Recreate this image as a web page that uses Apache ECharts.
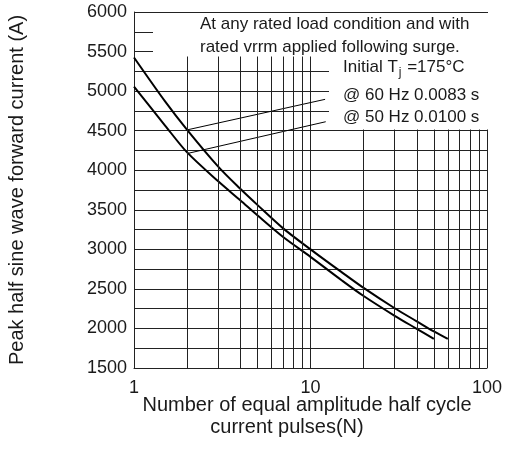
<!DOCTYPE html>
<html><head><meta charset="utf-8">
<script src="https://cdn.jsdelivr.net/npm/echarts@6/dist/echarts.min.js"></script>
<style>html,body{margin:0;padding:0;background:#fff}#c{width:505px;height:459px}</style>
</head><body><div id="c"></div>
<script>
// ---- data ----
var pulses60 = [1, 1.5, 2, 3, 4, 5, 7, 10, 15, 20, 30, 40, 50, 60];
var current60 = [5425, 4870, 4510, 4045, 3765, 3562, 3265, 3000, 2712, 2512, 2255, 2090, 1962, 1867];
var pulses50 = [1, 1.5, 2, 3, 4, 5, 7, 10, 15, 20, 30, 40, 50];
var current50 = [5056, 4565, 4225, 3860, 3620, 3430, 3155, 2905, 2610, 2410, 2160, 1995, 1867];
var leader60 = [[2, 4510], [12.1, 4896]];
var leader50 = [[2.03, 4214], [12.2, 4613]];
var xMinorGrid = [2, 3, 4, 5, 6, 7, 8, 9, 20, 30, 40, 50, 60, 70, 80, 90];
var xTicks = [1, 10, 100];
var yTicks = [1500, 2000, 2500, 3000, 3500, 4000, 4500, 5000, 5500, 6000];
var yTitle = 'Peak half sine wave forward current (A)';
var xTitle1 = 'Number of equal amplitude half cycle';
var xTitle2 = 'current pulses(N)';
var note1 = 'At any rated load condition and with';
var note2 = 'rated vrrm applied following surge.';
var label60 = '@ 60 Hz 0.0083 s';
var label50 = '@ 50 Hz 0.0100 s';

var FONT = "'Liberation Sans', Arial, Helvetica, sans-serif";
var INK = '#1a1a1a';
var GRID = '#222';

function pairs(xs, ys) { return xs.map(function (x, i) { return [x, ys[i]]; }); }

function txt(x, y, text, size, align) {
  return {
    type: 'text', x: x, y: y, z: 101, silent: true,
    style: {
      text: text, fontSize: size, fontFamily: FONT, fill: INK,
      align: align || 'left', verticalAlign: 'middle',
      textAlign: align || 'left', textVerticalAlign: 'middle'
    }
  };
}

var chart = echarts.init(document.getElementById('c'), null, { renderer: 'canvas' });
chart.setOption({
  animation: false,
  backgroundColor: '#fff',
  grid: { left: 134, top: 12, right: 18, bottom: 91, containLabel: false },
  xAxis: {
    type: 'log', logBase: 10, min: xTicks[0], max: xTicks[xTicks.length - 1],
    axisLine: { show: true, lineStyle: { color: GRID, width: 1 } },
    axisTick: { show: false },
    axisLabel: { show: true, margin: 11, color: INK, fontSize: 18, fontFamily: FONT,
      formatter: function (v) { return String(v); } },
    splitLine: { show: true, lineStyle: { color: GRID, width: 1 } },
    minorSplitLine: { show: false }
  },
  yAxis: {
    type: 'value', min: yTicks[0], max: yTicks[yTicks.length - 1], interval: yTicks[1] - yTicks[0],
    axisLine: { show: true, lineStyle: { color: GRID, width: 1 } },
    axisTick: { show: false },
    minorTick: { show: false, splitNumber: 2 },
    axisLabel: { show: true, margin: 7, color: INK, fontSize: 18, fontFamily: FONT,
      formatter: function (v) { return String(v); } },
    splitLine: { show: true, lineStyle: { color: GRID, width: 1 } },
    minorSplitLine: { show: true, lineStyle: { color: GRID, width: 1 } }
  },
  series: [
    {
      name: '60 Hz', type: 'line', data: pairs(pulses60, current60), smooth: 0.3,
      symbol: 'none', silent: true, z: 3,
      lineStyle: { color: '#000', width: 2 },
      markLine: {
        silent: true, symbol: ['none', 'none'], label: { show: false },
        lineStyle: { color: GRID, width: 1, type: 'solid' },
        emphasis: { disabled: true },
        data: xMinorGrid.map(function (v) { return { xAxis: v }; })
      }
    },
    {
      name: '50 Hz', type: 'line', data: pairs(pulses50, current50), smooth: 0.3,
      symbol: 'none', silent: true, z: 3,
      lineStyle: { color: '#000', width: 2 }
    },
    {
      name: 'leader60', type: 'line', data: leader60, symbol: 'none', silent: true, z: 3,
      lineStyle: { color: '#000', width: 1 }
    },
    {
      name: 'leader50', type: 'line', data: leader50, symbol: 'none', silent: true, z: 3,
      lineStyle: { color: '#000', width: 1 }
    }
  ],
  graphic: {
    elements: [
      { type: 'rect', z: 100, silent: true, shape: { x: 153, y: 13, width: 337, height: 43.5 }, style: { fill: '#fff' } },
      { type: 'rect', z: 100, silent: true, shape: { x: 329, y: 56, width: 161, height: 73.5 }, style: { fill: '#fff' } },
      txt(200, 24.5, note1, 17),
      txt(200, 47, note2, 17),
      {
        type: 'text', x: 343, y: 67.5, z: 101, silent: true,
        style: {
          text: '{a|Initial T}{s|j}{a| =175°C}',
          fontSize: 17, fontFamily: FONT, fill: INK,
          align: 'left', verticalAlign: 'middle', textAlign: 'left', textVerticalAlign: 'middle',
          rich: {
            a: { fontSize: 17, fontFamily: FONT, fill: INK, color: INK },
            s: { fontSize: 12, fontFamily: FONT, fill: INK, color: INK, padding: [10, 1, 0, 1] }
          }
        }
      },
      txt(343, 95.3, label60, 17),
      txt(343, 117, label50, 17),
      txt(307, 405, xTitle1, 20, 'center'),
      txt(287, 427, xTitle2, 20, 'center'),
      {
        type: 'text', x: 17.5, y: 190, rotation: Math.PI / 2, z: 101, silent: true,
        style: {
          text: yTitle, fontSize: 20, fontFamily: FONT, fill: INK,
          align: 'center', verticalAlign: 'middle', textAlign: 'center', textVerticalAlign: 'middle'
        }
      }
    ]
  }
});
</script></body></html>
